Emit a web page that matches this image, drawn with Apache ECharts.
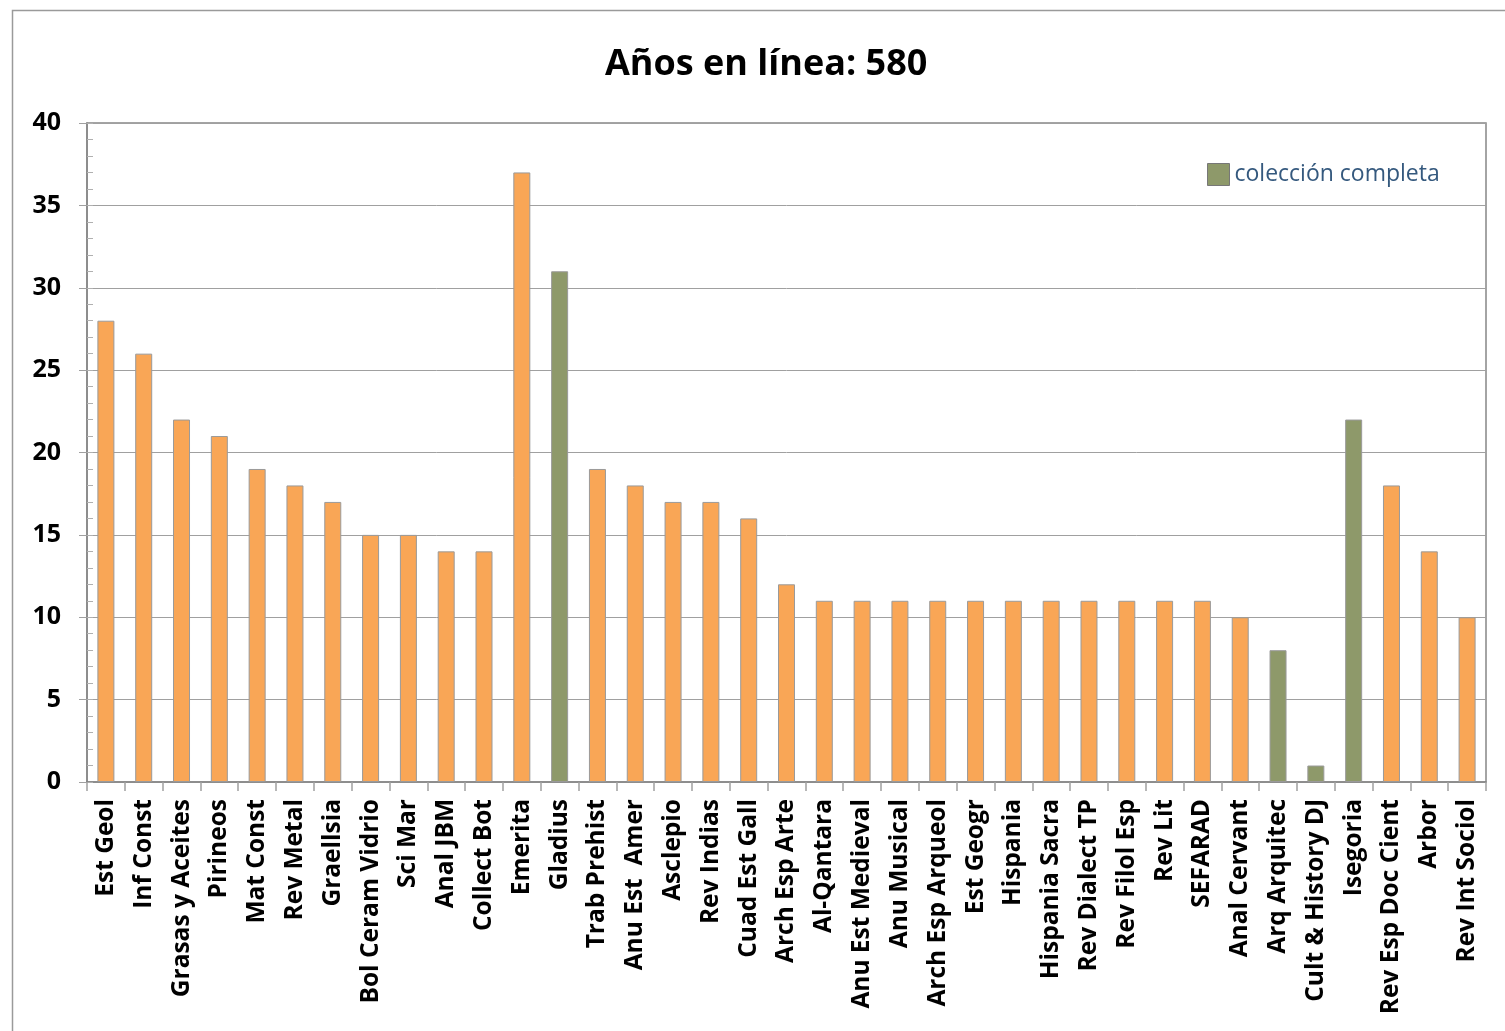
<!DOCTYPE html>
<html><head><meta charset="utf-8">
<script src="https://cdn.jsdelivr.net/npm/echarts@6/dist/echarts.min.js"></script>
<style>html,body{margin:0;padding:0;background:#fff}#c{width:1505px;height:1031px}</style>
</head><body><div id="c"></div>
<script>
const categories = ["Est Geol","Inf Const","Grasas y Aceites","Pirineos","Mat Const","Rev Metal","Graellsia","Bol Ceram Vidrio","Sci Mar","Anal JBM","Collect Bot","Emerita","Gladius","Trab Prehist","Anu Est  Amer","Asclepio","Rev Indias","Cuad Est Gall","Arch Esp Arte","Al-Qantara","Anu Est Medieval","Anu Musical","Arch Esp Arqueol","Est Geogr","Hispania","Hispania Sacra","Rev Dialect TP","Rev Filol Esp","Rev Lit","SEFARAD","Anal Cervant","Arq Arquitec","Cult & History DJ","Isegoria","Rev Esp Doc Cient","Arbor","Rev Int Sociol"];
const years = [28,26,22,21,19,18,17,15,15,14,14,37,31,19,18,17,17,16,12,11,11,11,11,11,11,11,11,11,11,11,10,8,1,22,18,14,10];
const fullCollection = [0,0,0,0,0,0,0,0,0,0,0,0,1,0,0,0,0,0,0,0,0,0,0,0,0,0,0,0,0,0,0,1,1,1,0,0,0];
const yTicks = [0,5,10,15,20,25,30,35,40];

const partial = years.map((v,i)=> fullCollection[i] ? '-' : v);
const full = years.map((v,i)=> fullCollection[i] ? v : '-');
const FONT = '"Open Sans", sans-serif';

const chart = echarts.init(document.getElementById('c'));
chart.setOption({
  backgroundColor:'#fff',
  animation:false,
  title:{text:'Años en línea: 580', left:600, top:42,
    textStyle:{fontFamily:FONT, fontWeight:'bold', fontSize:36, color:'#000'}},
  legend:{data:['colección completa'], left:1202, top:158, itemWidth:22, itemHeight:22, itemGap:9,
    icon:'rect',
    itemStyle:{borderColor:'#777', borderWidth:1},
    textStyle:{fontFamily:FONT, fontSize:23, color:'#35597E'}},
  grid:{left:87, right:19, top:123, bottom:249, show:true, borderColor:'#868686', borderWidth:1.5, containLabel:false},
  xAxis:{type:'category', data:categories,
    axisLine:{lineStyle:{color:'#868686', width:1.5}},
    axisTick:{show:true, alignWithLabel:false, length:9, lineStyle:{color:'#A0A0A0', width:1.5}},
    axisLabel:{rotate:90, interval:0, margin:17, color:'#000', fontFamily:FONT, fontWeight:'bold', fontSize:24.5, padding:[6,0,0,0]}
  },
  yAxis:[{type:'value', min:yTicks[0], max:yTicks[yTicks.length-1], interval:5,
    axisLine:{show:true, lineStyle:{color:'#868686', width:1.5}},
    axisTick:{show:true, length:8, lineStyle:{color:'#A0A0A0'}},
    axisLabel:{margin:26, color:'#000', fontFamily:FONT, fontWeight:'bold', fontSize:25, padding:[7,0,0,0]},
    splitLine:{lineStyle:{color:'#A0A0A0', width:1}}
  },{type:'value', min:0, max:40, interval:1, position:'left',
    axisLine:{show:false}, axisLabel:{show:false}, splitLine:{show:false},
    axisTick:{show:true, inside:true, length:6, lineStyle:{color:'#B0B0B0'}}
  }],
  series:[
    {name:'parcial', type:'bar', stack:'t', data:partial, barWidth:17,
      itemStyle:{color:'#F9A656', borderColor:'#9A9A9A', borderWidth:1}},
    {name:'colección completa', type:'bar', stack:'t', data:full, barWidth:17,
      itemStyle:{color:'#8E996A', borderColor:'#9A9A9A', borderWidth:1}}
  ],
  graphic:[{type:'rect', left:10, top:8, shape:{width:1520, height:1050}, style:{fill:null, stroke:'#9A9A9A', lineWidth:1.5}, silent:true}]
});
</script></body></html>
